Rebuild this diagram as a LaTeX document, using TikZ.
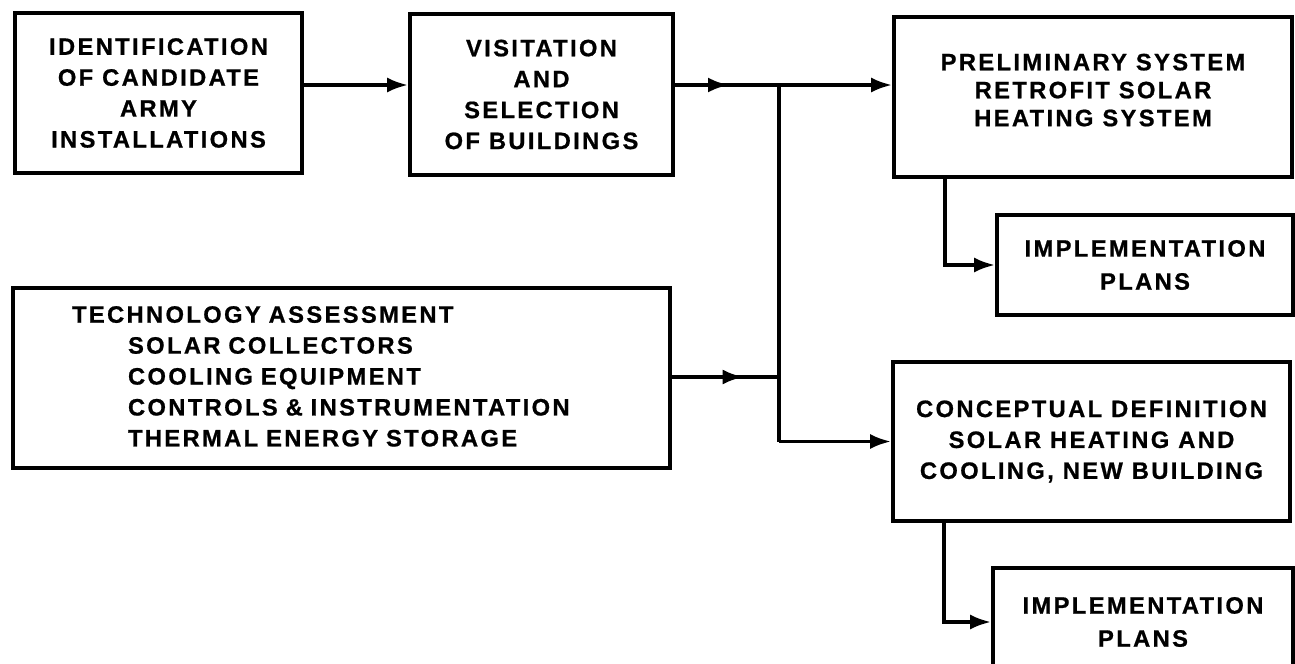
\documentclass[tikz,border=0pt]{standalone}
\usepackage{fontspec}
\setmainfont{Liberation Sans}[LetterSpace=10,BoldFeatures={FakeBold=0.8}]
\usetikzlibrary{arrows.meta,calc,decorations.markings}
\begin{document}
\begin{tikzpicture}[x=0.02cm,y=-0.02cm,
  box/.style={draw,line width=2.1pt,align=center,inner sep=0pt,
    font=\bfseries\fontsize{13.5}{17.6}\selectfont},
  link/.style={line width=2.1pt},
  flow/.style={link,-{Latex[length=4.2mm,width=3mm]}},
  midarrow/.style={link,postaction={decorate},decoration={markings,
    mark=at position #1 with {\arrow{Latex[length=4.2mm,width=3mm]}}}}]
  \clip (0,0) rectangle (1295,663);
  \node[box,minimum width=5.74cm,minimum height=3.2cm] (ident) at (158.5,93)
    {IDENTIFICATION\\OF CANDIDATE\\ARMY\\INSTALLATIONS};
  \node[box,minimum width=5.26cm,minimum height=3.22cm] (visit) at (541.5,94.5)
    {VISITATION\\AND\\SELECTION\\OF BUILDINGS};
  \node[box,minimum width=7.96cm,minimum height=3.2cm] (prelim) at (1093,97)
    {PRELIMINARY SYSTEM\\[-1.7pt]RETROFIT SOLAR\\[-1.7pt]HEATING SYSTEM\\[-9.6pt]\mbox{}};
  \node[box,minimum width=5.92cm,minimum height=2cm] (plansA) at (1145,265)
    {IMPLEMENTATION\\[1.2pt]PLANS};
  \node[box,align=left,text width=10.78cm,inner xsep=1.18cm,minimum height=3.6cm] (tech) at (341.5,378)
    {\mbox{}\\[-10pt]
     TECHNOLOGY ASSESSMENT\\
     \hspace*{1.12cm}SOLAR COLLECTORS\\
     \hspace*{1.12cm}COOLING EQUIPMENT\\
     \hspace*{1.12cm}CONTROLS \& INSTRUMENTATION\\
     \hspace*{1.12cm}THERMAL ENERGY STORAGE};
  \node[box,minimum width=7.94cm,minimum height=3.18cm] (concept) at (1091.5,441.5)
    {CONCEPTUAL DEFINITION\\SOLAR HEATING AND\\COOLING, NEW BUILDING};
  \node[box,minimum width=6cm,minimum height=2.16cm] (plansB) at (1143,622)
    {IMPLEMENTATION\\[1.2pt]PLANS};
  % junction on the collecting line
  \coordinate (jtop) at (779,85);
  \coordinate (jbot) at (jtop |- concept.west);
  \draw[flow] (ident.east |- jtop) -- (visit.west |- jtop);
  \draw[midarrow=0.52] (visit.east |- jtop) -- (jtop);
  \draw[flow] (jtop) -- (prelim.west |- jtop);
  \draw[midarrow=0.67] (tech.east |- 0,377) -- (jtop |- 0,377);
  \draw[link] (jtop) -- (jbot);
  \draw[flow] (jbot) -- (concept.west);
  \draw[flow] ($(prelim.south west)+(53,0)$) |- (plansA.west);
  \draw[flow] ($(concept.south west)+(53,0)$) |- (plansB.west);
\end{tikzpicture}
\end{document}
